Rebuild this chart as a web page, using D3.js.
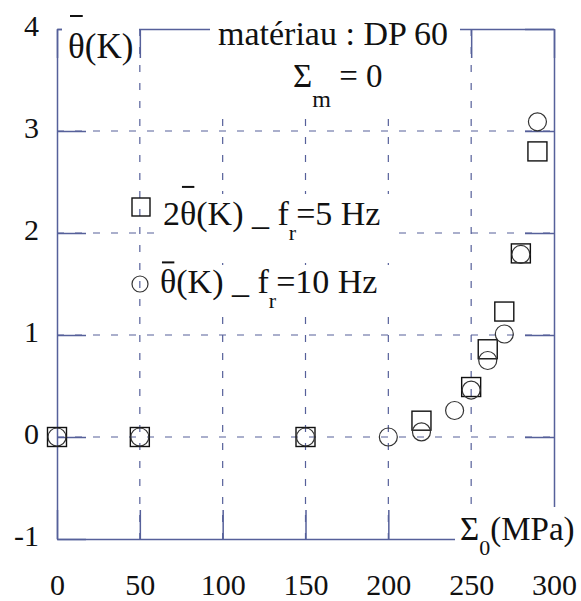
<!DOCTYPE html>
<html lang="fr">
<head>
<meta charset="utf-8">
<title>theta(K) vs Sigma0</title>
<script src="https://d3js.org/d3.v7.min.js"></script>
<style>
body { margin: 0; background: #fff; }
</style>
</head>
<body>
<script>
// values
var xTicks = [0, 50, 100, 150, 200, 250, 300];
var yTicks = [-1, 0, 1, 2, 3, 4];

// 2*theta(K), fr = 5 Hz (squares)
var sqX = [0, 50, 150, 220, 250, 260, 270, 280, 290];
var sqY = [0, 0, 0, 0.16, 0.49, 0.86, 1.23, 1.80, 2.80];

// theta(K), fr = 10 Hz (circles)
var ciX = [0, 50, 150, 200, 220, 240, 250, 260, 270, 280, 290];
var ciY = [0, 0, 0, 0, 0.05, 0.26, 0.46, 0.75, 1.01, 1.79, 3.09];

var width = 581, height = 601;
var margin = {top: 29, right: 27, bottom: 62, left: 57};
var lineCol = "#56609a";
var serif = "'Liberation Serif', 'Times New Roman', Times, serif";
var tk = 29;

var svg = d3.select("body").append("svg")
  .attr("width", width)
  .attr("height", height);

var x = d3.scaleLinear().domain([0, 300]).range([margin.left, width - margin.right]);
var y = d3.scaleLinear().domain([-1, 4]).range([height - margin.bottom, margin.top]);

// dashed grid
svg.append("g").selectAll("line")
  .data(xTicks.slice(1, -1))
  .join("line")
  .attr("x1", d => x(d)).attr("x2", d => x(d))
  .attr("y1", y(4)).attr("y2", y(-1))
  .attr("stroke", lineCol).attr("stroke-width", 1.2)
  .attr("stroke-dasharray", "7,11");

svg.append("g").selectAll("line")
  .data(yTicks.slice(1, -1))
  .join("line")
  .attr("y1", d => y(d)).attr("y2", d => y(d))
  .attr("x1", x(0)).attr("x2", x(300))
  .attr("stroke", lineCol).attr("stroke-width", 1.2)
  .attr("stroke-dasharray", "7,11");

// axes with inward ticks on all four sides
function styleAxis(g) {
  g.attr("color", lineCol)
   .attr("font-family", serif)
   .attr("font-size", 30);
  g.selectAll("path, line").attr("stroke-width", 1.5);
  g.selectAll("text").attr("fill", "#111").style("font-family", serif);
}

svg.append("g")
  .attr("transform", "translate(0," + y(-1) + ")")
  .call(d3.axisBottom(x).tickValues(xTicks).tickFormat(d => String(d))
    .tickSize(-tk).tickSizeOuter(0).tickPadding(35))
  .call(styleAxis);

svg.append("g")
  .attr("transform", "translate(" + x(0) + ",0)")
  .call(d3.axisLeft(y).tickValues(yTicks).tickFormat(d => String(d))
    .tickSize(-tk).tickSizeOuter(0).tickPadding(18))
  .call(styleAxis)
  .selectAll("text").attr("dy", "0.22em");

svg.append("g")
  .attr("transform", "translate(0," + y(4) + ")")
  .call(d3.axisTop(x).tickValues(xTicks).tickSize(-tk).tickSizeOuter(0).tickFormat(""))
  .call(styleAxis);

svg.append("g")
  .attr("transform", "translate(" + x(300) + ",0)")
  .call(d3.axisRight(y).tickValues(yTicks).tickSize(-tk).tickSizeOuter(0).tickFormat(""))
  .call(styleAxis);

// white boxes behind the labels
function box(x0, y0, x1, y1) {
  svg.append("rect").attr("x", x0).attr("y", y0)
    .attr("width", x1 - x0).attr("height", y1 - y0).attr("fill", "#fff");
}
box(62, 0, 139, 66);
box(210, 0, 460, 117);
box(157, 194, 393, 256);
box(152, 265, 393, 306);
box(455, 507, 581, 566);

// text with subscripts: parts = [[string, isSub], ...]
function label(px, py, fs, parts, subFs, drop) {
  var t = svg.append("text").attr("x", px).attr("y", py)
    .attr("font-size", fs).attr("fill", "#111")
    .style("font-family", serif);
  var prevSub = false;
  parts.forEach(function(p) {
    var s = t.append("tspan").text(p[0]);
    if (p[1]) { s.attr("dy", drop).attr("font-size", subFs); }
    else if (prevSub) { s.attr("dy", -drop); }
    prevSub = p[1];
  });
  return t;
}

// bar over the character at index idx
function overbar(t, idx, py, fs, k) {
  var b = t.node().getExtentOfChar(idx);
  svg.append("line")
    .attr("x1", b.x + b.width * 0.12).attr("x2", b.x + b.width * 0.88)
    .attr("y1", py - k * fs).attr("y2", py - k * fs)
    .attr("stroke", "#111").attr("stroke-width", 2);
}

var t1 = label(68, 58, 35, [["θ(K)", false]]);
overbar(t1, 0, 58, 35, 1.2);

label(218, 45, 34, [["matériau : DP 60", false]]);
label(293, 87, 33, [["Σ", false], ["m", true], [" = 0", false]], 24, 20);

var l1 = label(163, 225, 34, [["2θ(K) _ f", false], ["r", true], ["=5 Hz", false]], 22, 15);
overbar(l1, 1, 225, 34, 1.12);
var l2 = label(160, 293, 34, [["θ(K) _ f", false], ["r", true], ["=10 Hz", false]], 22, 15);
overbar(l2, 0, 293, 34, 0.9);

label(460, 540, 33, [["Σ", false], ["0", true], ["(MPa)", false]], 22, 15);

// markers
var sqSize = 19, ciR = 9;
svg.append("g").selectAll("rect")
  .data(d3.zip(sqX, sqY))
  .join("rect")
  .attr("x", d => x(d[0]) - sqSize / 2)
  .attr("y", d => y(d[1]) - sqSize / 2)
  .attr("width", sqSize).attr("height", sqSize)
  .attr("fill", "none").attr("stroke", "#111").attr("stroke-width", 1.4);

svg.append("g").selectAll("circle")
  .data(d3.zip(ciX, ciY))
  .join("circle")
  .attr("cx", d => x(d[0]))
  .attr("cy", d => y(d[1]))
  .attr("r", ciR)
  .attr("fill", "none").attr("stroke", "#333").attr("stroke-width", 1.2);

// legend symbols
svg.append("rect").attr("x", 141 - 9).attr("y", 207 - 9)
  .attr("width", 18).attr("height", 18)
  .attr("fill", "none").attr("stroke", "#111").attr("stroke-width", 1.4);
svg.append("circle").attr("cx", 140).attr("cy", 284).attr("r", 8)
  .attr("fill", "none").attr("stroke", "#333").attr("stroke-width", 1.2);
</script>
</body>
</html>
